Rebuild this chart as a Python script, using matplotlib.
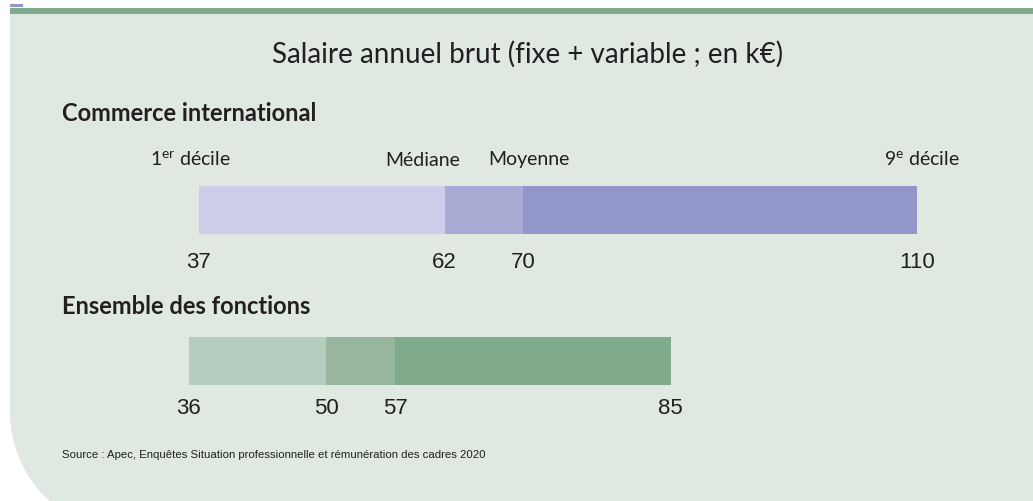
import matplotlib
matplotlib.use('Agg')
import matplotlib.pyplot as plt
from matplotlib.patches import Rectangle, Circle
from matplotlib.transforms import Bbox

# Salary distribution (k EUR): 1st decile, median, mean, 9th decile
groups = ['Commerce international', 'Ensemble des fonctions']
decile1 = [37, 36]
median = [62, 50]
mean = [70, 57]
decile9 = [110, 85]
top_labels = ['1$^{\\rm er}$ décile', 'Médiane', 'Moyenne', '9$^{\\rm e}$ décile']

title = 'Salaire annuel brut (fixe + variable ; en k€)'
source = 'Source : Apec, Enquêtes Situation professionnelle et rémunération des cadres 2020'

# styles
bg = '#dfe8e1'
txt = '#231f20'
colors = [['#cccee9', '#a9abd4', '#9396ca'],
          ['#b6cebf', '#98b69e', '#80aa8c']]
W, H = 1033, 501
plt.rcParams['font.family'] = ['Lato', 'DejaVu Sans']
plt.rcParams['mathtext.fontset'] = 'custom'
plt.rcParams['mathtext.rm'] = 'Lato'
narrow = ['Liberation Sans Narrow', 'Liberation Sans', 'DejaVu Sans']

fig = plt.figure(figsize=(W / 100, H / 100), dpi=100)
fig.patch.set_facecolor('white')

# background panel in pixel coordinates
bgax = fig.add_axes([0, 0, 1, 1])
bgax.set_xlim(0, W)
bgax.set_ylim(H, 0)
bgax.axis('off')
R = 120
bgax.add_patch(Rectangle((10, 14), W - 10, 412 - 14, color=bg, lw=0))
bgax.add_patch(Rectangle((10 + R, 14), W, H, color=bg, lw=0))
bgax.add_patch(Circle((10 + R, 412), R, color=bg, lw=0))
bgax.add_patch(Rectangle((10, 8), W, 6, color='#80aa8c', lw=0))
bgax.add_patch(Rectangle((10, 4), 13, 2.5, color='#9396ca', lw=0))

bgax.text(528, 54, title, ha='center', va='center', fontsize=20, color=txt)
bgax.text(62, 113, groups[0], ha='left', va='center', fontsize=17,
          fontweight='bold', color=txt)
bgax.text(62, 307, groups[1], ha='left', va='center', fontsize=17,
          fontweight='bold', color=txt)
bgax.text(62, 455, source, ha='left', va='center', fontsize=8.2,
          color=txt, family=narrow)

# bar axes: x in k EUR, y in pixels
ax = fig.add_axes([0, 0, 1, 1])
ax.patch.set_alpha(0)
px_per_k = 9.84
x0 = 37 - 198.5 / px_per_k
ax.set_xlim(x0, x0 + W / px_per_k)
ax.set_ylim(H, 0)
ax.axis('off')

bar_y = [210, 361]
num_y = [263, 409]
clip_bottom = [H, 415]
for i in range(len(groups)):
    edges = [decile1[i], median[i], mean[i], decile9[i]]
    for j in range(3):
        ax.barh(bar_y[i], edges[j + 1] - edges[j], left=edges[j], height=48,
                color=colors[i][j], lw=0)
    # display coords: origin at bottom-left, pixels at dpi 100
    clip = Bbox([[0, H - clip_bottom[i]], [W, H]])
    for v in edges:
        t = ax.text(v, num_y[i], str(v), ha='center', va='center',
                    fontsize=16, color=txt, family=narrow)
        t.set_clip_on(True)
        t.set_clip_box(clip)

label_vals = [decile1[0], median[0], mean[0], decile9[0]]
label_dx = [-8, -22, 6, 5]
for lab, v, dx in zip(top_labels, label_vals, label_dx):
    ax.annotate(lab, (v, 160), xytext=(dx, 0), textcoords='offset pixels',
                ha='center', va='center', fontsize=14, color=txt)

fig.savefig('out.png', dpi=100, facecolor='white')
